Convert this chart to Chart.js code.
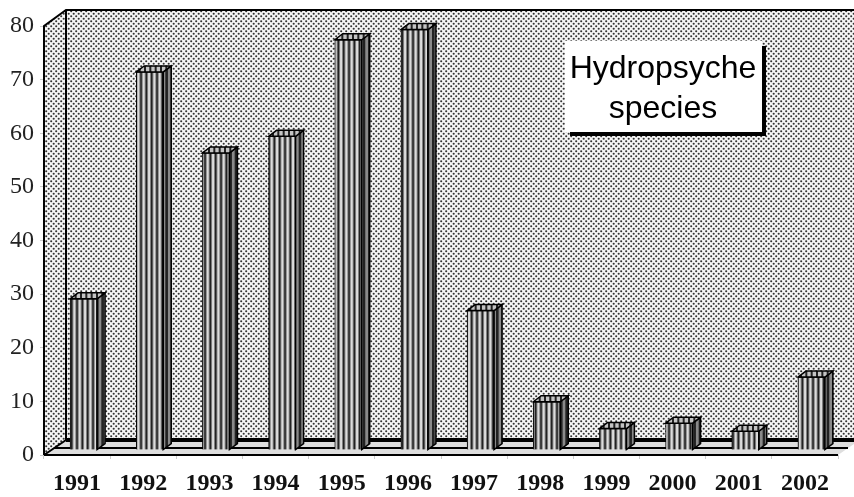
<!DOCTYPE html>
<html>
<head>
<meta charset="utf-8">
<title>Hydropsyche species</title>
<script src="https://cdn.jsdelivr.net/npm/chart.js@4"></script>
<style>
body { margin: 0; background: #fff; }
canvas { display: block; }
</style>
</head>
<body>
<canvas id="chart" width="854" height="497"></canvas>
<script>
const years = ['1991', '1992', '1993', '1994', '1995', '1996', '1997', '1998', '1999', '2000', '2001', '2002'];
const counts = [28.2, 70.5, 55.4, 58.5, 76.5, 78.4, 26, 9, 4, 5, 3.5, 13.6];
const noteLines = ['Hydropsyche', 'species'];

const depthX = 22;
const depthY = 15;

function makePattern(w, h, paint) {
    const tile = document.createElement('canvas');
    tile.width = w;
    tile.height = h;
    paint(tile.getContext('2d'));
    return tile.getContext('2d').createPattern(tile, 'repeat');
}

const dots = makePattern(5, 5, (c) => {
    c.fillStyle = '#f6f6f6';
    c.fillRect(0, 0, 5, 5);
    c.fillStyle = '#333';
    c.beginPath();
    c.arc(1.2, 1.2, 1.05, 0, Math.PI * 2);
    c.arc(3.7, 3.7, 1.05, 0, Math.PI * 2);
    c.fill();
});

// three stripes in 16px, so about 5.3px apart
function stripes(light, dark, stripe) {
    return makePattern(16, 4, (c) => {
        c.fillStyle = light;
        c.fillRect(0, 0, 16, 4);
        c.fillStyle = dark;
        [0, 5.33, 10.67].forEach((x) => c.fillRect(x, 0, stripe, 4));
    });
}

const frontFace = stripes('#dcdcdc', '#222', 2.4);
const topFace = stripes('#c4c4c4', '#222', 2);
const sideFace = stripes('#8a8a8a', '#222', 2.6);

function poly(ctx, pts, fill, stroke, lw) {
    ctx.beginPath();
    pts.forEach((p, i) => (i ? ctx.lineTo(p[0], p[1]) : ctx.moveTo(p[0], p[1])));
    ctx.closePath();
    if (fill) {
        ctx.fillStyle = fill;
        ctx.fill();
    }
    if (stroke) {
        ctx.strokeStyle = stroke;
        ctx.lineWidth = lw;
        ctx.stroke();
    }
}

const walls = {
    id: 'walls',
    beforeDatasetsDraw(chart) {
        const ctx = chart.ctx;
        const { left, right, top, bottom } = chart.chartArea;
        const backX = left + depthX;
        const backTop = top - depthY - 1;
        const backBottom = bottom - depthY;
        const farRight = right + depthX;

        ctx.save();
        ctx.fillStyle = dots;
        ctx.fillRect(backX, backTop, farRight - backX, backBottom - backTop);
        poly(ctx, [[left, top], [backX, backTop], [backX, backBottom], [left, bottom]], dots);

        // floor with its bands
        poly(ctx, [[left, bottom], [backX, backBottom], [farRight, backBottom], [right, bottom]], '#dedede');
        ctx.strokeStyle = '#000';
        ctx.lineWidth = 4;
        ctx.beginPath();
        ctx.moveTo(backX, backBottom);
        ctx.lineTo(farRight, backBottom);
        ctx.stroke();
        ctx.lineWidth = 2;
        ctx.beginPath();
        ctx.moveTo(left + 10, bottom - 7);
        ctx.lineTo(right + 10, bottom - 7);
        ctx.moveTo(left, bottom);
        ctx.lineTo(right, bottom);
        ctx.stroke();

        // wall edges
        ctx.lineWidth = 2;
        ctx.beginPath();
        ctx.moveTo(left, bottom);
        ctx.lineTo(left, top);
        ctx.lineTo(backX, backTop);
        ctx.lineTo(farRight, backTop);
        ctx.moveTo(backX, backTop);
        ctx.lineTo(backX, backBottom);
        ctx.lineTo(left, bottom);
        ctx.stroke();
        ctx.restore();

        // bars sit part way back on the floor
        ctx.save();
        ctx.translate(6.5, -5);
    },
    afterDatasetsDraw(chart) {
        const ctx = chart.ctx;
        ctx.restore();
        ctx.save();
        chart.getDatasetMeta(0).data.forEach((bar) => {
            const x1 = bar.x - bar.width / 2 + 6.5;
            const x2 = bar.x + bar.width / 2 + 6.5;
            const y = bar.y - 5;
            const base = bar.base - 5;
            poly(ctx, [[x2, y], [x2 + 8, y - 6], [x2 + 8, base - 6], [x2, base]], sideFace, '#000', 1.5);
            poly(ctx, [[x1, y], [x1 + 8, y - 6], [x2 + 8, y - 6], [x2, y]], topFace, '#000', 1.5);
        });
        ctx.restore();
    },
    afterDraw(chart) {
        const ctx = chart.ctx;
        ctx.save();
        ctx.fillStyle = '#000';
        ctx.fillRect(570, 46, 196, 90);
        ctx.fillStyle = '#fff';
        ctx.fillRect(565, 41, 197, 91);
        ctx.fillStyle = '#000';
        ctx.font = '32px "Liberation Sans"';
        ctx.textAlign = 'center';
        ctx.textBaseline = 'alphabetic';
        ctx.fillText(noteLines[0], 663, 78);
        ctx.fillText(noteLines[1], 663, 118);
        ctx.restore();
    }
};

new Chart(document.getElementById('chart'), {
    type: 'bar',
    data: {
        labels: years,
        datasets: [{
            data: counts,
            backgroundColor: frontFace,
            borderColor: '#000',
            borderWidth: 1,
            barThickness: 27,
            clip: false
        }]
    },
    options: {
        responsive: false,
        animation: false,
        layout: { padding: { top: 26, right: 16 } },
        plugins: { legend: { display: false }, tooltip: { enabled: false } },
        scales: {
            x: {
                afterFit: (scale) => { scale.height = 42; },
                border: { display: false },
                grid: { drawOnChartArea: false, tickLength: 4, tickColor: '#ccc', offset: true },
                ticks: {
                    color: '#111',
                    padding: 10,
                    maxRotation: 0,
                    font: { family: '"Liberation Serif"', size: 24, weight: 'bold' }
                }
            },
            y: {
                min: 0,
                max: 80,
                afterFit: (scale) => { scale.width = 44; },
                border: { display: false },
                grid: { drawOnChartArea: false, tickLength: 4, tickColor: '#ccc' },
                ticks: {
                    stepSize: 10,
                    color: '#222',
                    padding: 6,
                    font: { family: '"Liberation Serif"', size: 24 }
                }
            }
        }
    },
    plugins: [walls]
});
</script>
</body>
</html>
